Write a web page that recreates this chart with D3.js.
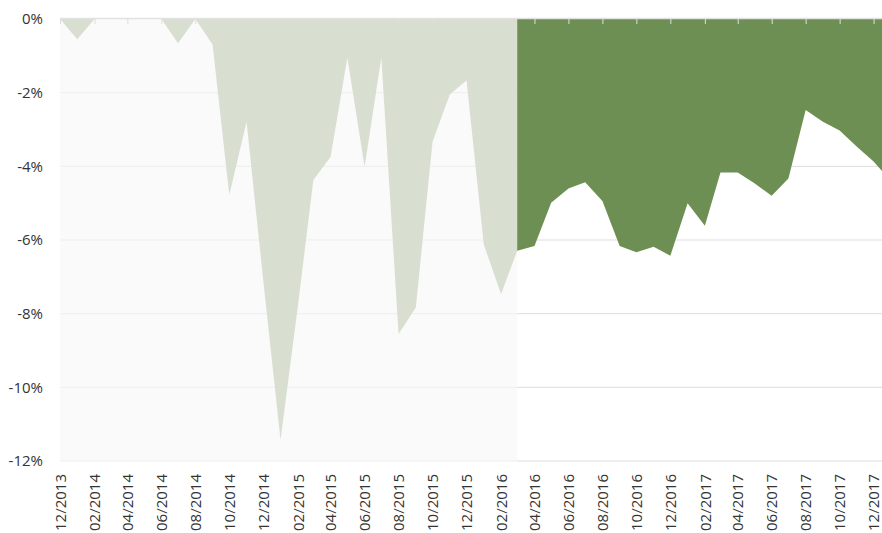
<!DOCTYPE html>
<html>
<head>
<meta charset="utf-8">
<script src="https://cdn.jsdelivr.net/npm/d3@7"></script>
<style>
  body { margin: 0; background: #fff; }
  svg { display: block; font-family: "Open Sans", sans-serif; }
</style>
</head>
<body>
<div id="chart"></div>
<script>
// monthly drawdown, 12/2013 .. 01/2018
const months = [
    '12/2013', '01/2014', '02/2014', '03/2014', '04/2014', '05/2014', '06/2014', '07/2014',
    '08/2014', '09/2014', '10/2014', '11/2014', '12/2014', '01/2015', '02/2015', '03/2015',
    '04/2015', '05/2015', '06/2015', '07/2015', '08/2015', '09/2015', '10/2015', '11/2015',
    '12/2015', '01/2016', '02/2016', '03/2016', '04/2016', '05/2016', '06/2016', '07/2016',
    '08/2016', '09/2016', '10/2016', '11/2016', '12/2016', '01/2017', '02/2017', '03/2017',
    '04/2017', '05/2017', '06/2017', '07/2017', '08/2017', '09/2017', '10/2017', '11/2017',
    '12/2017', '01/2018'
];
const drawdown = [
    0, -0.55, 0, 0, 0, 0, 0, -0.66,
    0, -0.69, -4.78, -2.79, -7.1, -11.43, -7.82, -4.37,
    -3.74, -1.05, -4.01, -1.05, -8.55, -7.83, -3.33, -2.05,
    -1.67, -6.12, -7.47, -6.29, -6.16, -4.99, -4.6, -4.43,
    -4.94, -6.16, -6.33, -6.18, -6.43, -5.0, -5.61, -4.17,
    -4.17, -4.46, -4.8, -4.33, -2.47, -2.79, -3.03, -3.47,
    -3.87, -4.4
];
const splitMonth = '03/2016';   // backtest before, live after
const yTicks = [0, -2, -4, -6, -8, -10, -12];
const xTickLabels = [
    '12/2013', '02/2014', '04/2014', '06/2014', '08/2014', '10/2014', '12/2014',
    '02/2015', '04/2015', '06/2015', '08/2015', '10/2015', '12/2015', '02/2016',
    '04/2016', '06/2016', '08/2016', '10/2016', '12/2016', '02/2017', '04/2017',
    '06/2017', '08/2017', '10/2017', '12/2017'
];

const width = 882, height = 533;
const margin = { top: 19, left: 60, bottom: 72 };
const parse = d3.timeParse('%m/%Y');
const fmt = d3.timeFormat('%m/%Y');

const data = months.map((m, i) => ({ date: parse(m), value: drawdown[i] }));
const splitDate = parse(splitMonth);

const svg = d3.select('#chart').append('svg')
    .attr('width', width)
    .attr('height', height);

const x = d3.scaleTime()
    .domain([parse('12/2013'), parse('12/2017')])
    .range([margin.left, 873.6]);

const y = d3.scaleLinear()
    .domain([-12, 0])
    .range([height - margin.bottom, margin.top]);

const xSplit = x(splitDate);

// shaded backtest region
svg.append('rect')
    .attr('x', margin.left)
    .attr('y', y(0))
    .attr('width', xSplit - margin.left)
    .attr('height', y(-12) - y(0))
    .attr('fill', '#fafafa');

// gridlines, lighter inside the shaded region
const grid = svg.append('g');
grid.selectAll('line.l')
    .data(yTicks.filter(d => d !== 0))
    .enter().append('line')
    .attr('x1', margin.left).attr('x2', xSplit)
    .attr('y1', d => y(d)).attr('y2', d => y(d))
    .attr('stroke', '#eeeeee');
grid.selectAll('line.r')
    .data(yTicks.filter(d => d !== 0))
    .enter().append('line')
    .attr('x1', xSplit).attr('x2', width)
    .attr('y1', d => y(d)).attr('y2', d => y(d))
    .attr('stroke', '#dddddd');

const area = d3.area()
    .x(d => x(d.date))
    .y0(y(0))
    .y1(d => y(d.value));

svg.append('path')
    .datum(data.filter(d => d.date <= splitDate))
    .attr('d', area)
    .attr('fill', '#d8dfd0');

svg.append('path')
    .datum(data.filter(d => d.date >= splitDate))
    .attr('d', area)
    .attr('fill', '#6e8f53');

// zero line
svg.append('line')
    .attr('x1', margin.left).attr('x2', width)
    .attr('y1', y(0) - 0.5).attr('y2', y(0) - 0.5)
    .attr('stroke', '#e2e2e2')
    .attr('stroke-width', 1.5);

// tick marks along the top
const topAxis = svg.append('g')
    .attr('transform', `translate(0,${y(0)})`)
    .call(d3.axisTop(x).tickValues(xTickLabels.map(parse)).tickSize(-5).tickFormat(''));
topAxis.select('.domain').remove();
topAxis.selectAll('line').attr('stroke', '#dedede');

// y labels
const yAxis = svg.append('g')
    .attr('transform', `translate(${margin.left},0)`)
    .call(d3.axisLeft(y).tickValues(yTicks).tickSize(0).tickPadding(17)
        .tickFormat(d => d + '%'));
yAxis.select('.domain').remove();
yAxis.selectAll('text')
    .attr('fill', '#333')
    .style('font-size', '15px')
    .style('font-family', '"Open Sans", sans-serif');

// x labels, rotated
const xAxis = svg.append('g')
    .attr('transform', `translate(0,${y(-12)})`)
    .call(d3.axisBottom(x).tickValues(xTickLabels.map(parse)).tickSize(0).tickFormat(fmt));
xAxis.select('.domain').remove();
xAxis.selectAll('text')
    .attr('transform', 'rotate(-90)')
    .attr('text-anchor', 'end')
    .attr('x', -13)
    .attr('y', 0)
    .attr('dy', '0.35em')
    .attr('fill', '#333')
    .style('font-size', '15px')
    .style('font-family', '"Open Sans", sans-serif');
</script>
</body>
</html>
